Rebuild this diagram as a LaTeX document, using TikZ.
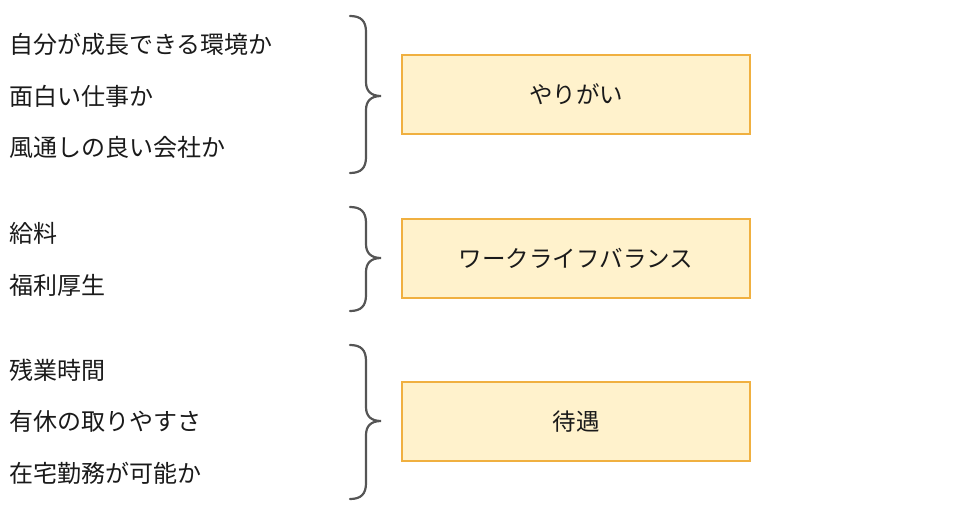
\documentclass[tikz,border=0pt]{standalone}
\usepackage{fontspec}
\setmainfont{Noto Sans CJK JP}
\usetikzlibrary{positioning}

\definecolor{boxfill}{HTML}{FFF2CC}
\definecolor{boxline}{HTML}{F0B040}
\definecolor{bracegray}{HTML}{555555}
\definecolor{textdark}{HTML}{1A1A1A}

\tikzset{
	item/.style={anchor=west, inner sep=0pt, text=textdark, font=\fontsize{24}{28}\selectfont},
	groupbox/.style={draw=boxline, fill=boxfill, line width=1.5pt, minimum width=348pt, minimum height=79pt, inner sep=0pt, text=textdark, font=\fontsize{23.5}{27}\selectfont},
	curly/.style={draw=bracegray, line width=2.2pt, line cap=round},
}

\begin{document}
\begin{tikzpicture}[x=1pt, y=-1pt]
			\useasboundingbox (0,0) rectangle (960,509);

			% items on the left
			\node[item] (jiko) at (9,44) {自分が成長できる環境か};
			\node[item] (omoshiroi) at (9,96) {面白い仕事か};
			\node[item] (kazetoshi) at (9,147) {風通しの良い会社か};
			\node[item] (kyuryo) at (9,233) {給料};
			\node[item] (fukuri) at (9,285) {福利厚生};
			\node[item] (zangyo) at (9,370) {残業時間};
			\node[item] (yukyu) at (9,421) {有休の取りやすさ};
			\node[item] (zaitaku) at (9,473) {在宅勤務が可能か};

			% braces: top, bottom, tip
			\foreach \t/\b/\m in {16/173/96, 207/311/258, 345/499/421}{
				\draw[curly] (350,\t) .. controls (361,\t) and (366,\t+5) .. (366,\t+16)
					-- (366,\m-14) .. controls (366,\m-5) and (371,\m) .. (381,\m)
					.. controls (371,\m) and (366,\m+5) .. (366,\m+14)
					-- (366,\b-16) .. controls (366,\b-5) and (361,\b) .. (350,\b);
			}

			% boxes on the right
			\node[groupbox] (yarigai) at (576,94.5) {やりがい};
			\node[groupbox] (wlb) at (576,258.5) {ワークライフバランス};
			\node[groupbox] (taigu) at (576,421.5) {待遇};
		\end{tikzpicture}
\end{document}
